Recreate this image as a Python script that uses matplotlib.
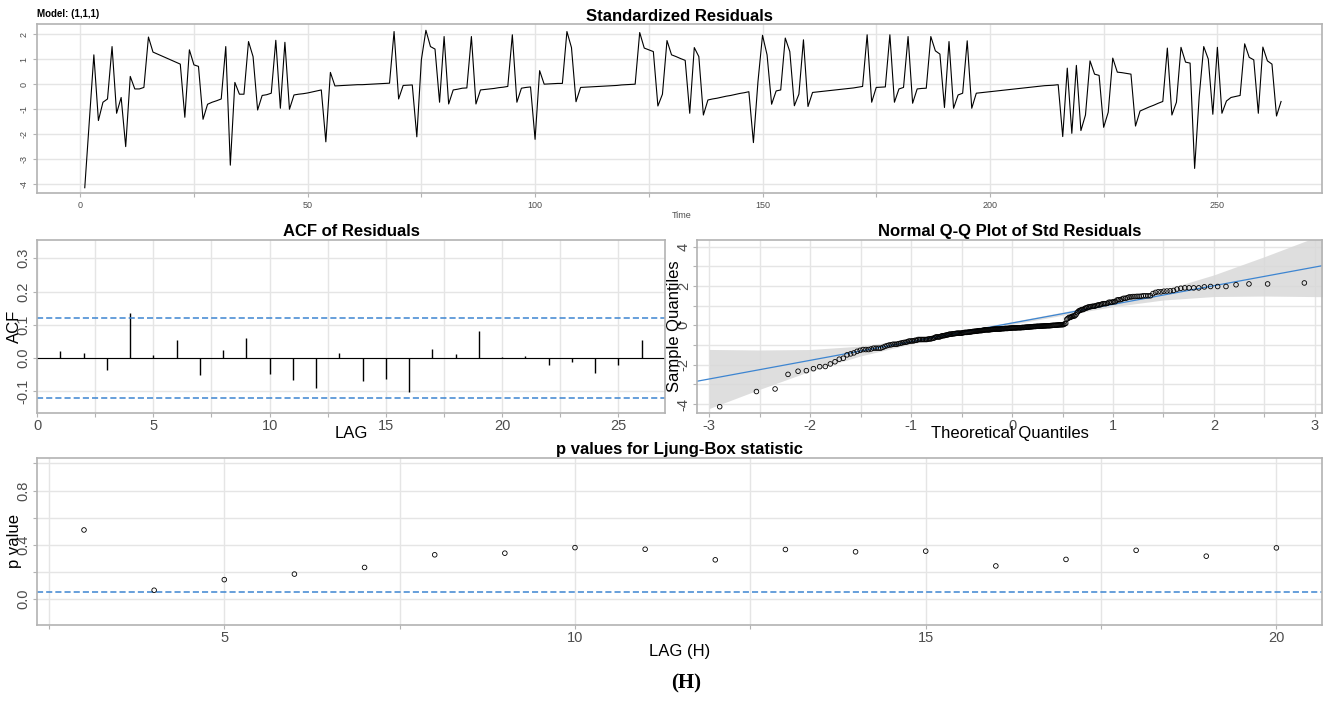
import numpy as np
import matplotlib
matplotlib.use('Agg')
import matplotlib.pyplot as plt
from matplotlib.ticker import MultipleLocator, FixedLocator
from statistics import NormalDist

plt.rcParams['font.family'] = ['Liberation Sans', 'DejaVu Sans']
plt.rcParams['axes.unicode_minus'] = False

# standardized residuals, t = 1..264
resid = [
    -4.13, -1.5, 1.17, -1.45, -0.72, -0.59, 1.5, -1.16, -0.53, -2.49,
    0.31, -0.19, -0.19, -0.13, 1.88, 1.28, 1.2, 1.12, 1.04, 0.96,
    0.88, 0.8, -1.32, 1.37, 0.77, 0.71, -1.4, -0.8, -0.72, -0.66,
    -0.59, 1.5, -3.23, 0.07, -0.4, -0.4, 1.7, 1.1, -1.03, -0.45,
    -0.42, -0.36, 1.75, -0.96, 1.67, -1.0, -0.43, -0.4, -0.38, -0.35,
    -0.31, -0.27, -0.23, -2.3, 0.47, -0.07, -0.06, -0.05, -0.04, -0.03,
    -0.02, -0.02, -0.01, 0.0, 0.01, 0.02, 0.03, 0.04, 2.1, -0.59,
    -0.05, -0.04, -0.03, -2.1, 0.97, 2.15, 1.5, 1.4, -0.72, 1.9,
    -0.79, -0.23, -0.2, -0.16, -0.15, 1.9, -0.79, -0.23, -0.21, -0.19,
    -0.17, -0.14, -0.12, -0.09, 1.97, -0.72, -0.16, -0.13, -0.11, -2.2,
    0.54, 0.0, 0.01, 0.02, 0.03, 0.03, 2.1, 1.46, -0.7, -0.13,
    -0.12, -0.11, -0.1, -0.09, -0.08, -0.07, -0.06, -0.05, -0.03, -0.02,
    -0.01, 0.0, 2.06, 1.44, 1.37, 1.3, -0.87, -0.4, 1.74, 1.17,
    1.1, 1.02, 0.95, -1.16, 1.46, 1.1, -1.23, -0.63, -0.59, -0.56,
    -0.52, -0.48, -0.45, -0.41, -0.37, -0.34, -0.3, -2.33, 0.1, 1.95,
    1.17, -0.8, -0.27, -0.23, 1.84, 1.3, -0.86, -0.4, 1.77, -0.89,
    -0.33, -0.31, -0.29, -0.27, -0.25, -0.23, -0.21, -0.19, -0.17, -0.15,
    -0.12, -0.09, 1.97, -0.72, -0.13, -0.12, -0.11, 1.97, -0.72, -0.19,
    -0.13, 1.9, -0.76, -0.19, -0.17, -0.16, 1.9, 1.33, 1.2, -0.93,
    1.7, -0.96, -0.43, -0.36, 1.73, -0.96, -0.36, -0.34, -0.32, -0.3,
    -0.28, -0.26, -0.24, -0.22, -0.2, -0.18, -0.16, -0.14, -0.12, -0.1,
    -0.08, -0.06, -0.05, -0.04, -0.02, -2.09, 0.64, -1.96, 0.75, -1.85,
    -1.23, 0.93, 0.4, 0.35, -1.72, -1.12, 1.04, 0.48, 0.46, 0.43,
    0.4, -1.67, -1.07, -0.99, -0.91, -0.84, -0.76, -0.69, 1.44, -1.23,
    -0.72, 1.47, 0.88, 0.84, -3.36, -0.5, 1.5, 1.0, -1.2, 1.47,
    -1.16, -0.67, -0.53, -0.49, -0.45, 1.61, 1.07, 0.97, -1.16, 1.48,
    0.93, 0.8, -1.27, -0.69,
]

acf_lags = list(range(1, 27))
acf_vals = [0.021, 0.016, -0.035, 0.137, 0.009, 0.054, -0.051, 0.024, 0.061, -0.049,
            -0.067, -0.09, 0.016, -0.068, -0.062, -0.102, 0.026, 0.012, 0.082, 0.003,
            0.006, -0.022, -0.012, -0.044, -0.022, 0.054]
acf_bound = 0.12

lb_lags = list(range(3, 21))
lb_pvals = [0.51, 0.066, 0.144, 0.185, 0.234, 0.327, 0.339, 0.38, 0.368, 0.29,
            0.366, 0.349, 0.354, 0.245, 0.293, 0.36, 0.317, 0.378]

# half width of the grey band around the Q-Q line
band_z = [-3.0, -2.5, -2.0, -1.5, -1.0, -0.5, 0.0, 0.5, 1.0, 1.5, 2.0, 2.5, 3.0, 3.2]
band_hw = [1.5, 1.0, 0.55, 0.25, 0.12, 0.08, 0.07, 0.08, 0.12, 0.25, 0.55, 1.0, 1.5, 1.7]

W, H = 1330, 702
fig = plt.figure(figsize=(W / 100, H / 100), dpi=100)

def box(l, t, r, b):
    return fig.add_axes([l / W, 1 - b / H, (r - l) / W, (b - t) / H])

grid_c = '#e5e5e5'
spine_c = '#b3b3b3'
tick_c = '#4d4d4d'
blue = '#3d85d1'

def style(ax, fs):
    for s in ax.spines.values():
        s.set_color(spine_c)
        s.set_linewidth(1.2)
    ax.tick_params(which='both', colors=spine_c, labelcolor=tick_c, labelsize=fs, length=3, width=0.8, pad=1.5)
    ax.tick_params(axis='y', labelrotation=90)
    for lab in ax.get_yticklabels():
        lab.set_va('center')
    ax.grid(True, which='both', color=grid_c, lw=1)
    ax.set_axisbelow(True)

# ---- top: standardized residuals
t = np.arange(1, len(resid) + 1)
ax1 = box(37, 24, 1322, 193)
ax1.plot(t, resid, color='black', lw=0.8)
ax1.set_xlim(-9.5, 273)
ax1.set_ylim(-4.34, 2.4)
ax1.xaxis.set_major_locator(MultipleLocator(50))
ax1.xaxis.set_minor_locator(MultipleLocator(25))
ax1.set_yticks(range(-4, 3))
style(ax1, 6.5)
ax1.tick_params(pad=3)
ax1.set_title('Standardized Residuals', fontsize=12, fontweight='bold', pad=2)
fig.text(37 / W, 1 - 14 / H, 'Model: (1,1,1)', fontsize=7, fontweight='bold', ha='left', va='center')
fig.text(682 / W, 1 - 216 / H, 'Time', fontsize=6.5, color=tick_c, ha='center', va='center')

# ---- ACF
ax2 = box(37, 240, 665, 413)
ax2.vlines(acf_lags, 0, acf_vals, color='black', lw=1)
ax2.axhline(0, color='black', lw=0.8)
for b in (acf_bound, -acf_bound):
    ax2.axhline(b, color=blue, lw=1.1, ls=(0, (4, 2)))
ax2.set_xlim(0, 27)
ax2.set_ylim(-0.165, 0.355)
ax2.xaxis.set_major_locator(MultipleLocator(5))
ax2.xaxis.set_minor_locator(MultipleLocator(2.5))
ax2.set_yticks([-0.1, 0.0, 0.1, 0.2, 0.3])
ax2.set_yticklabels(['-0.1', '0.0', '0.1', '0.2', '0.3'])
style(ax2, 10.5)
ax2.set_title('ACF of Residuals', fontsize=12, fontweight='bold', pad=3)
ax2.set_xlabel('LAG', fontsize=12, labelpad=-5)
ax2.set_ylabel('ACF', fontsize=12, labelpad=-4)

# ---- Normal Q-Q
n = len(resid)
nd = NormalDist()
srt = np.sort(resid)
theo = np.array([nd.inv_cdf((i - 0.5) / n) for i in range(1, n + 1)])
q1, q3 = np.quantile(resid, [0.25, 0.75])
z1, z3 = nd.inv_cdf(0.25), nd.inv_cdf(0.75)
slope = (q3 - q1) / (z3 - z1)
icpt = q1 - slope * z1
bz = np.array(band_z)
bline = icpt + slope * bz
ax3 = box(697, 240, 1322, 413)
ax3.fill_between(bz, bline - np.array(band_hw), bline + np.array(band_hw), color='#d9d9d9', lw=0, alpha=0.85)
ax3.axline((0, icpt), slope=slope, color=blue, lw=0.9)
ax3.scatter(theo, srt, s=11, facecolors='none', edgecolors='black', linewidths=0.6, zorder=3)
ax3.set_xlim(-3.12, 3.07)
ax3.set_ylim(-4.45, 4.33)
ax3.xaxis.set_major_locator(MultipleLocator(1))
ax3.xaxis.set_minor_locator(MultipleLocator(0.5))
ax3.yaxis.set_major_locator(MultipleLocator(2))
ax3.yaxis.set_minor_locator(MultipleLocator(1))
style(ax3, 10.5)
ax3.set_title('Normal Q-Q Plot of Std Residuals', fontsize=12, fontweight='bold', pad=3)
ax3.set_xlabel('Theoretical Quantiles', fontsize=12, labelpad=-5)
ax3.set_ylabel('Sample Quantiles', fontsize=12, labelpad=-4)

# ---- Ljung-Box p values
ax4 = box(37, 458, 1322, 625)
ax4.scatter(lb_lags, lb_pvals, s=11, facecolors='none', edgecolors='black', linewidths=0.6, zorder=3)
ax4.axhline(0.05, color=blue, lw=1.1, ls=(0, (4, 2)))
ax4.set_xlim(2.33, 20.65)
ax4.set_ylim(-0.19, 1.04)
ax4.xaxis.set_major_locator(FixedLocator([5, 10, 15, 20]))
ax4.xaxis.set_minor_locator(FixedLocator([2.5, 7.5, 12.5, 17.5]))
ax4.yaxis.set_major_locator(FixedLocator([0.0, 0.4, 0.8]))
ax4.yaxis.set_minor_locator(FixedLocator([0.2, 0.6, 1.0]))
ax4.set_yticklabels(['0.0', '0.4', '0.8'])
style(ax4, 10.5)
ax4.set_title('p values for Ljung-Box statistic', fontsize=12, fontweight='bold', pad=3)
ax4.set_xlabel('LAG (H)', fontsize=12, labelpad=-1)
ax4.set_ylabel('p value', fontsize=12, labelpad=-4)

fig.text(686 / W, 1 - 683 / H, '(H)', fontsize=15, fontweight='bold', family='Liberation Serif',
         ha='center', va='center')

fig.savefig('out.png', dpi=100)
